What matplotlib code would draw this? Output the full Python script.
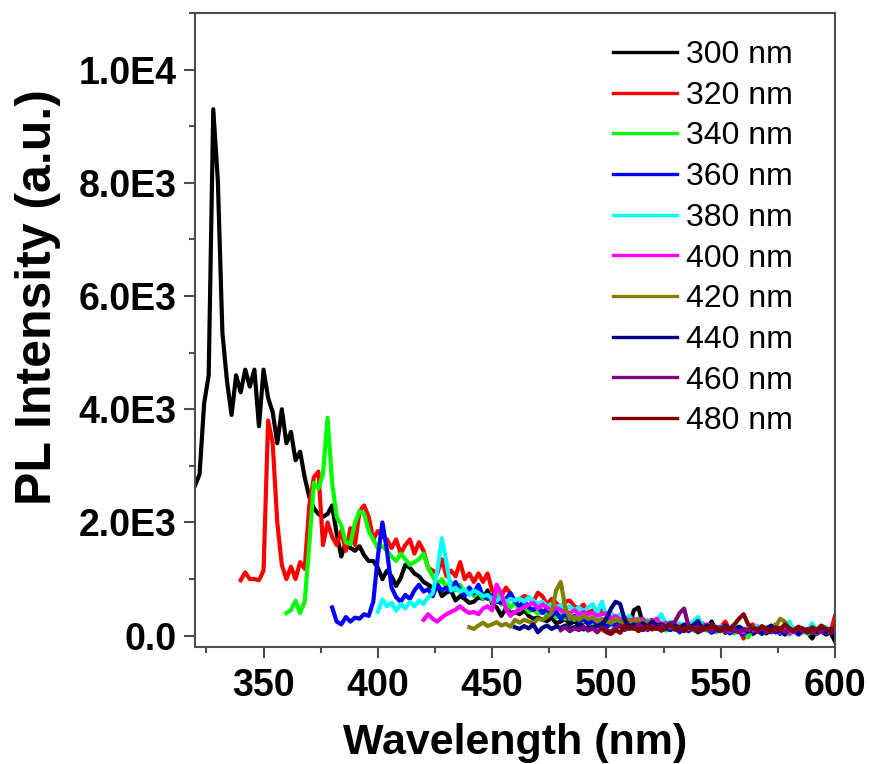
import numpy as np
import matplotlib
matplotlib.use('Agg')
import matplotlib.pyplot as plt
from matplotlib.ticker import MultipleLocator, FuncFormatter

plt.rcParams['font.family'] = ['Liberation Sans', 'DejaVu Sans']

# excitation wavelengths (legend) and where each emission scan starts, 2 nm step
labels = ['300 nm', '320 nm', '340 nm', '360 nm', '380 nm',
          '400 nm', '420 nm', '440 nm', '460 nm', '480 nm']
starts = [320, 340, 360, 380, 400, 420, 440, 460, 480, 498]
step = 2

ex300 = [2650, 2850, 4100, 4600, 9300, 8050, 5350, 4500, 3900, 4600,
         4300, 4700, 4400, 4700, 3700, 4700, 4200, 3950, 3400, 4000,
         3400, 3600, 3100, 3250, 2800, 2450, 2250, 2150, 2100, 2150,
         2300, 1800, 1400, 1650, 1550, 1500, 1580, 1420, 1320, 1320,
         1200, 1000, 1150, 1050, 880, 1020, 1250, 1200, 1100, 1050,
         950, 900, 850, 900, 700, 760, 800, 620, 700, 650,
         580, 600, 680, 650, 800, 560, 500, 350, 480, 400,
         420, 380, 450, 350, 300, 320, 280, 260, 320, 220,
         250, 300, 200, 260, 180, 240, 260, 200, 220, 160,
         180, 250, 150, 200, 260, 180, 450, 500, 200, 150,
         180, 120, 200, 150, 100, 180, 140, 120, 200, 100,
         80, 150, 120, 250, 100, 130, 50, 120, 150, 80,
         60, 150, 30, 80, 150, 40, 100, 60, 120, 20,
         80, 110, 40, 130, 60, -50, 100, 80, 20, 60,
         -100]
ex320 = [980, 1120, 1000, 1000, 980, 1150, 3800, 3400, 2000, 1250,
         1000, 1220, 1000, 1300, 1180, 2300, 2800, 2900, 1600, 2000,
         1750, 1600, 1850, 1500, 1900, 1600, 2200, 2300, 2100, 1700,
         1850, 1750, 1700, 1550, 1700, 1450, 1600, 1700, 1450, 1650,
         1500, 1200, 1150, 1100, 1350, 1050, 1150, 1050, 1300, 1000,
         1100, 950, 1100, 950, 1100, 800, 750, 700, 850, 750,
         600, 650, 700, 680, 600, 760, 700, 550, 650, 580,
         500, 600, 620, 520, 480, 550, 400, 450, 380, 450,
         350, 400, 300, 350, 280, 320, 250, 300, 200, 250,
         280, 150, 220, 180, 200, 150, 180, 120, 150, 200,
         100, 220, 150, 130, 80, 150, 250, 100, 180, 120,
         -50, 150, 200, 100, 150, 80, 120, 200, 60, 100,
         50, 120, 150, 80, 60, 130, 50, 100, 70, 60,
         350]
ex340 = [400, 450, 620, 400, 600, 1600, 2700, 2600, 2850, 3850,
         2700, 2100, 1950, 1650, 1620, 2000, 2200, 2150, 1850, 1700,
         1550, 1580, 1500, 1400, 1320, 1450, 1350, 1250, 1300, 1350,
         1450, 1200, 1050, 900, 1000, 850, 950, 800, 900, 760,
         850, 700, 780, 650, 700, 600, 750, 550, 600, 500,
         580, 450, 520, 420, 480, 380, 450, 350, 400, 320,
         380, 300, 350, 280, 320, 250, 300, 220, 280, 200,
         250, 180, 230, 150, 200, 180, 120, 200, 150, 100,
         180, 120, 150, 90, 150, 100, 130, 80, 150, 100,
         60, 120, 90, 150, 60, 100, 140, 80, 40, 120,
         90, -30, 100, 120, 60, 150, 80, 100, 50, 130,
         20, 100, 70, 140, 30, 90, 60, 120, 50, 80,
         60]
ex360 = [500, 250, 200, 330, 250, 320, 300, 380, 350, 600,
         1400, 2000, 1500, 850, 680, 600, 720, 650, 800, 900,
         780, 820, 700, 900, 800, 850, 780, 950, 800, 700,
         850, 750, 900, 700, 650, 720, 600, 580, 650, 750,
         600, 520, 620, 500, 450, 520, 400, 480, 350, 420,
         300, 380, 280, 350, 250, 300, 200, 280, 180, 250,
         150, 220, 180, 250, 130, 200, 150, 180, 100, 150,
         120, 180, 90, 130, 100, 150, 60, 120, 80, 150,
         60, 100, 130, 50, 100, 80, 150, 40, 100, 70,
         20, 120, 60, 100, 30, 90, 60, 110, 30, 80,
         50, 100, 20, 80, 60, 100, 30, 80, 50, 90,
         40]
ex380 = [420, 640, 520, 580, 440, 560, 480, 600, 520, 620,
         560, 680, 750, 1150, 1720, 1300, 800, 850, 780, 820,
         720, 800, 760, 700, 720, 650, 620, 680, 600, 650,
         620, 660, 600, 680, 620, 560, 600, 520, 560, 500,
         540, 480, 520, 450, 500, 420, 500, 560, 400, 600,
         350, 400, 320, 380, 300, 350, 250, 300, 220, 280,
         200, 260, 380, 200, 250, 180, 220, 150, 200, 250,
         330, 180, 150, 200, 120, 170, 100, 150, 200, 120,
         80, 150, 100, 180, 60, 130, 90, 180, 60, 120,
         250, 100, 60, 130, 80, 220, 100, 60, 150, 100,
         80]
ex400 = [280, 380, 300, 250, 320, 380, 420, 460, 520, 450,
         400, 420, 380, 480, 520, 450, 900, 750, 480, 350,
         420, 460, 500, 550, 580, 480, 550, 500, 440, 500,
         450, 420, 400, 450, 380, 420, 380, 400, 350, 380,
         400, 300, 350, 280, 320, 250, 300, 220, 300, 200,
         250, 300, 180, 230, 150, 200, 120, 180, 150, 200,
         100, 150, 200, 120, 160, 100, 140, 80, 150, 100,
         60, 120, 90, 140, 50, 110, 80, 130, 60, 100,
         40, 110, 80, 60, 120, 50, 100, 70, 110, 60,
         80]
ex420 = [150, 120, 180, 230, 170, 200, 240, 180, 210, 160,
         280, 230, 280, 250, 220, 300, 280, 330, 400, 800,
         950, 500, 300, 330, 280, 350, 300, 320, 250, 300,
         280, 220, 300, 250, 200, 280, 220, 300, 200, 250,
         180, 220, 150, 200, 160, 120, 180, 150, 120, 160,
         100, 150, 120, 90, 140, 100, 70, 130, 90, 60,
         120, 80, 140, 100, 60, 120, 90, 160, 300, 250,
         120, 80, 150, 60, 110, 90, 40, 130, 70, 100,
         60]
ex440 = [150, 120, 170, 130, 200, 60, 140, 180, 120, 160,
         140, 180, 120, 150, 170, 110, 150, 130, 170, 200,
         300, 480, 600, 560, 280, 150, 200, 170, 220, 160,
         250, 180, 200, 160, 220, 180, 120, 200, 150, 180,
         260, 130, 180, 120, 150, 100, 180, 120, 90, 160,
         110, 70, 140, 100, 50, 120, 180, 60, 100, 40,
         120, 80, 40, 110, 70, 140, 60, 100, 70, 120,
         50]
ex460 = [100, 150, 80, 130, 100, 160, 90, 130, 60, 150,
         100, 70, 140, 180, 100, 150, 120, 200, 140, 100,
         170, 120, 180, 150, 200, 250, 400, 480, 150, 120,
         160, 100, 140, 90, 120, 150, 80, 130, 100, 60,
         120, 90, 150, 80, 130, 60, 110, 90, 140, 70,
         110, 60, 130, 80, 120, 50, 100, 70, 120, 60,
         80]
ex480 = [120, 60, 30, 100, 50, 180, 120, 150, 80, 130,
         170, 110, 150, 90, 140, 190, 110, 150, 80, 160,
         120, 70, 150, 110, 200, 120, 90, 160, 110, 200,
         300, 380, 200, 140, 100, 170, 120, 80, 150, 110,
         200, 130, 90, 160, 120, 60, 150, 100, 180, 120,
         90, 140]

spectra = [ex300, ex320, ex340, ex360, ex380, ex400, ex420, ex440, ex460, ex480]
colors = ['#000000', '#ff0000', '#00ff00', '#0000ff', '#00ffff',
          '#ff00ff', '#808000', '#000080', '#800080', '#800000']


def sci_label(v, pos):
    if v == 0:
        return '0.0'
    e = int(np.floor(np.log10(abs(v))))
    return '{0:.1f}E{1}'.format(v / 10**e, e)


fig = plt.figure(figsize=(8.7, 7.64), dpi=100)
ax = fig.add_axes([0.2241, 0.1531, 0.7357, 0.8299])

for i in range(len(spectra)):
    x = starts[i] + step * np.arange(len(spectra[i]))
    ax.plot(x, spectra[i], c=colors[i], lw=3.0, label=labels[i])

ax.set_xlim(320, 600)
ax.set_ylim(-200, 11000)
ax.xaxis.set_major_locator(MultipleLocator(50))
ax.xaxis.set_minor_locator(MultipleLocator(25))
ax.yaxis.set_major_locator(MultipleLocator(2000))
ax.yaxis.set_minor_locator(MultipleLocator(1000))
ax.yaxis.set_major_formatter(FuncFormatter(sci_label))

for s in ax.spines.values():
    s.set_color('#4d4d4d')
    s.set_linewidth(1.5)
ax.tick_params(which='both', direction='out', width=1.5, color='#4d4d4d',
               top=False, right=False)
ax.tick_params(which='major', length=8)
ax.tick_params(which='minor', length=4.5)
ax.tick_params(axis='x', labelsize=27, pad=7)
ax.tick_params(axis='y', labelsize=27, pad=5)
for t in ax.get_xticklabels() + ax.get_yticklabels():
    t.set_fontweight('bold')

ax.set_xlabel('Wavelength (nm)', fontsize=31, fontweight='bold', labelpad=14)
fig.text(38 / 870, 1 - 297 / 764, 'PL Intensity (a.u.)', fontsize=36,
         fontweight='bold', rotation=90, ha='center', va='center')

leg = ax.legend(loc='upper left', bbox_to_anchor=(613 / 870, 1 - 40 / 764),
                bbox_transform=fig.transFigure, frameon=False, fontsize=23,
                handlelength=2.0, handletextpad=0.3, labelspacing=0.335,
                borderpad=0, borderaxespad=0)
for h in leg.get_lines():
    h.set_linewidth(2.4)

fig.savefig('out.png', dpi=100)
